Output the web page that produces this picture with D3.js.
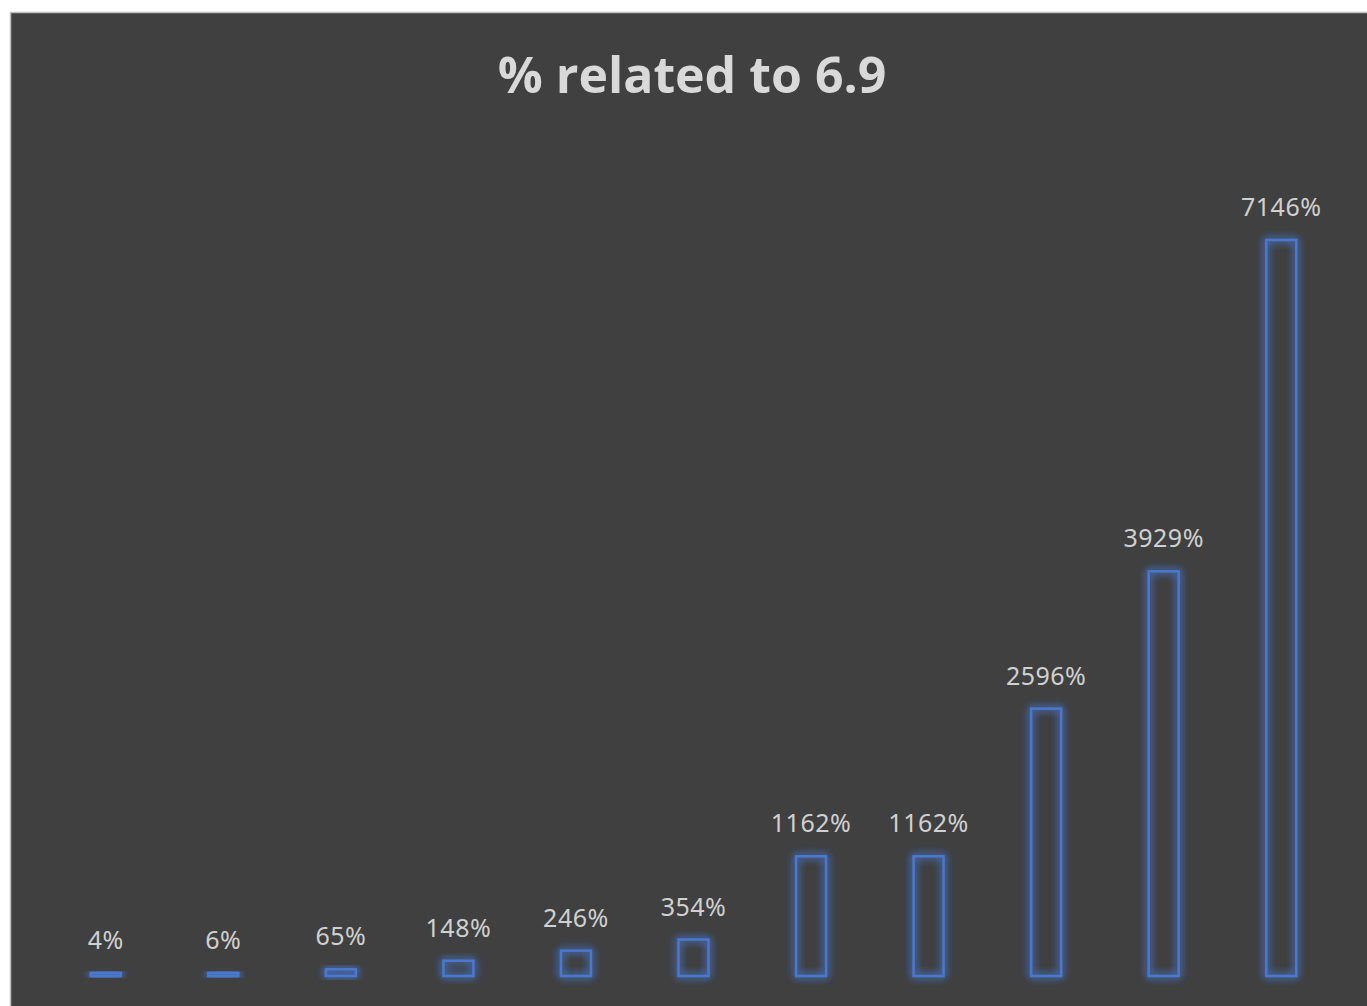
<!DOCTYPE html>
<html>
<head>
<meta charset="utf-8">
<script src="https://cdn.jsdelivr.net/npm/d3@7"></script>
<style>
    body { margin: 0; background: #ffffff; }
    svg { display: block; }
</style>
</head>
<body>
<svg id="chart" width="1367" height="1006"></svg>
<script>
// values
const categories = ["c1", "c2", "c3", "c4", "c5", "c6", "c7", "c8", "c9", "c10", "c11"];
const percents = [4, 6, 65, 148, 246, 354, 1162, 1162, 2596, 3929, 7146];
const title = "% related to 6.9";

const W = 1367, H = 1006;
const svg = d3.select("#chart");

// glow filter for the bar outlines
const defs = svg.append("defs");
const glow = defs.append("filter").attr("id", "glow")
    .attr("x", "-50%").attr("y", "-50%").attr("width", "200%").attr("height", "200%");
glow.append("feGaussianBlur").attr("in", "SourceGraphic").attr("stdDeviation", 4.5).attr("result", "blur");
const merge = glow.append("feMerge");
merge.append("feMergeNode").attr("in", "blur");
merge.append("feMergeNode").attr("in", "blur");
merge.append("feMergeNode").attr("in", "SourceGraphic");

// chart area (border visible on top and left only)
svg.append("rect")
    .attr("x", 10.5).attr("y", 12.5)
    .attr("width", W + 20).attr("height", H + 20)
    .attr("fill", "#404040")
    .attr("stroke", "#bfbfbf")
    .attr("stroke-width", 1.5);

svg.append("text")
    .attr("x", 692).attr("y", 93)
    .attr("text-anchor", "middle")
    .attr("fill", "#d9d9d9")
    .style("font", "bold 50px 'Open Sans', 'Noto Sans', sans-serif")
    .text(title);

const baseY = 976;

const x = d3.scaleBand()
    .domain(categories)
    .range([47, 1340])
    .paddingInner(0.745)
    .paddingOuter(0.3725);

const y = d3.scaleLinear()
    .domain([0, 7146])
    .range([baseY, 240]);

const minH = 3;

const bars = svg.append("g");

bars.selectAll("rect")
    .data(percents)
    .join("rect")
    .attr("x", (d, i) => x(categories[i]))
    .attr("width", x.bandwidth())
    .attr("y", d => Math.min(y(d), baseY - minH))
    .attr("height", d => Math.max(baseY - y(d), minH))
    .attr("fill", "none")
    .attr("stroke", "#4a78d0")
    .attr("stroke-width", 2.5)
    .attr("filter", "url(#glow)");

svg.append("g").selectAll("text")
    .data(percents)
    .join("text")
    .attr("x", (d, i) => x(categories[i]) + x.bandwidth() / 2)
    .attr("y", d => Math.min(y(d), baseY - minH) - 24)
    .attr("text-anchor", "middle")
    .attr("fill", "#d0d0d0")
    .style("font", "25px 'Noto Sans', 'Open Sans', sans-serif")
    .style("letter-spacing", "0.5px")
    .text(d => d + "%");
</script>
</body>
</html>
